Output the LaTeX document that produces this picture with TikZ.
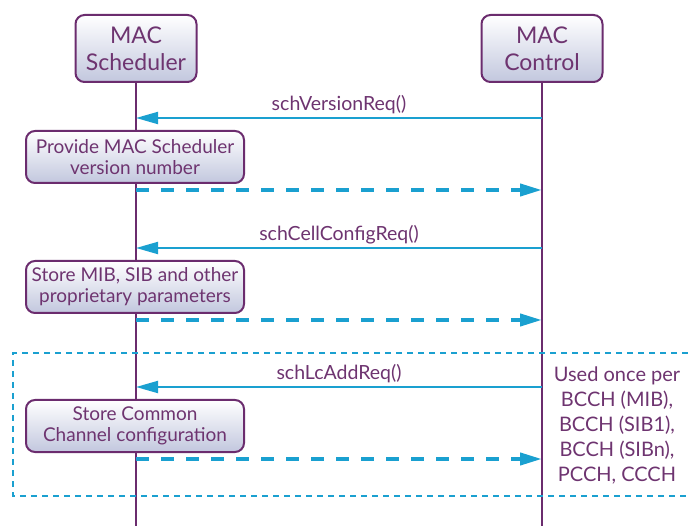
\documentclass[tikz,border=0pt]{standalone}
\usepackage{fontspec}
\setmainfont{Lato}
\usetikzlibrary{arrows.meta,positioning,calc}
\definecolor{lifepurple}{RGB}{107,44,110}
\definecolor{textpurple}{RGB}{110,52,112}
\definecolor{msgblue}{RGB}{26,160,208}
\definecolor{boxgrey}{RGB}{194,199,222}
\tikzset{
  entity/.style={draw=lifepurple, line width=2pt, rounded corners=9pt,
    top color=white, bottom color=boxgrey, text=textpurple, align=center,
    minimum width=121pt, minimum height=67pt,
    font=\fontsize{23}{27}\selectfont},
  action/.style={draw=lifepurple, line width=2pt, rounded corners=9pt,
    top color=white, bottom color=boxgrey, text=textpurple, align=center,
    minimum width=218pt, minimum height=52pt,
    font=\fontsize{19}{21}\selectfont},
  lifeline/.style={draw=lifepurple, line width=2.2pt},
  request/.style={draw=msgblue, line width=2pt,
    -{Triangle[length=22pt,width=12pt]}},
  response/.style={draw=msgblue, line width=4pt, dash pattern=on 13pt off 12pt,
    -{Triangle[length=22pt,width=12pt]}},
  msglabel/.style={text=textpurple, font=\fontsize{19.5}{21}\selectfont,
    above=0pt, midway},
  note/.style={text=textpurple, align=center,
    font=\fontsize{20}{25}\selectfont},
  group/.style={draw=msgblue, line width=1.5pt, dash pattern=on 6pt off 5pt}
}
\begin{document}
\begin{tikzpicture}[x=1pt,y=-1pt]
  \useasboundingbox (0,0) rectangle (688,526);
  % entities and lifelines
  \node[entity] (sched) at (136,48.5) {MAC\\Scheduler};
  \node[entity] (ctrl) at (542,48.5) {MAC\\Control};
  \coordinate (schedend) at (136,526);
  \coordinate (ctrlend) at (542,526);
  \draw[lifeline] (sched.south) -- (schedend);
  \draw[lifeline] (ctrl.south) -- (ctrlend);
  % group used for the common channels
  \draw[group] (688,353) -- (13,353) -- (13,496) -- (688,496);
  % request, action and answer
  \foreach \i/\y/\msg/\act in {1/118/schVersionReq()/{Provide MAC Scheduler\\version number},
                               2/248/schCellConfigReq()/{Store MIB, SIB and other\\proprietary parameters},
                               3/387/schLcAddReq()/{Store Common\\Channel configuration}}
  {
    \coordinate (ctrlreq\i) at (542,\y);
    \coordinate (schedreq\i) at (136,\y);
    \draw[request] (ctrlreq\i) -- (schedreq\i) node[msglabel] {\msg};
    \node[action] (act\i) at (135,\y+39) {\act};
    \coordinate (schedrsp\i) at (136,\y+72);
    \coordinate (ctrlrsp\i) at (542,\y+72);
    \draw[response] (schedrsp\i) -- (ctrlrsp\i);
  }
  \node[note] (usage) at (617,425) {Used once per\\BCCH (MIB),\\BCCH (SIB1),\\BCCH (SIBn),\\PCCH, CCCH};
\end{tikzpicture}
\end{document}
